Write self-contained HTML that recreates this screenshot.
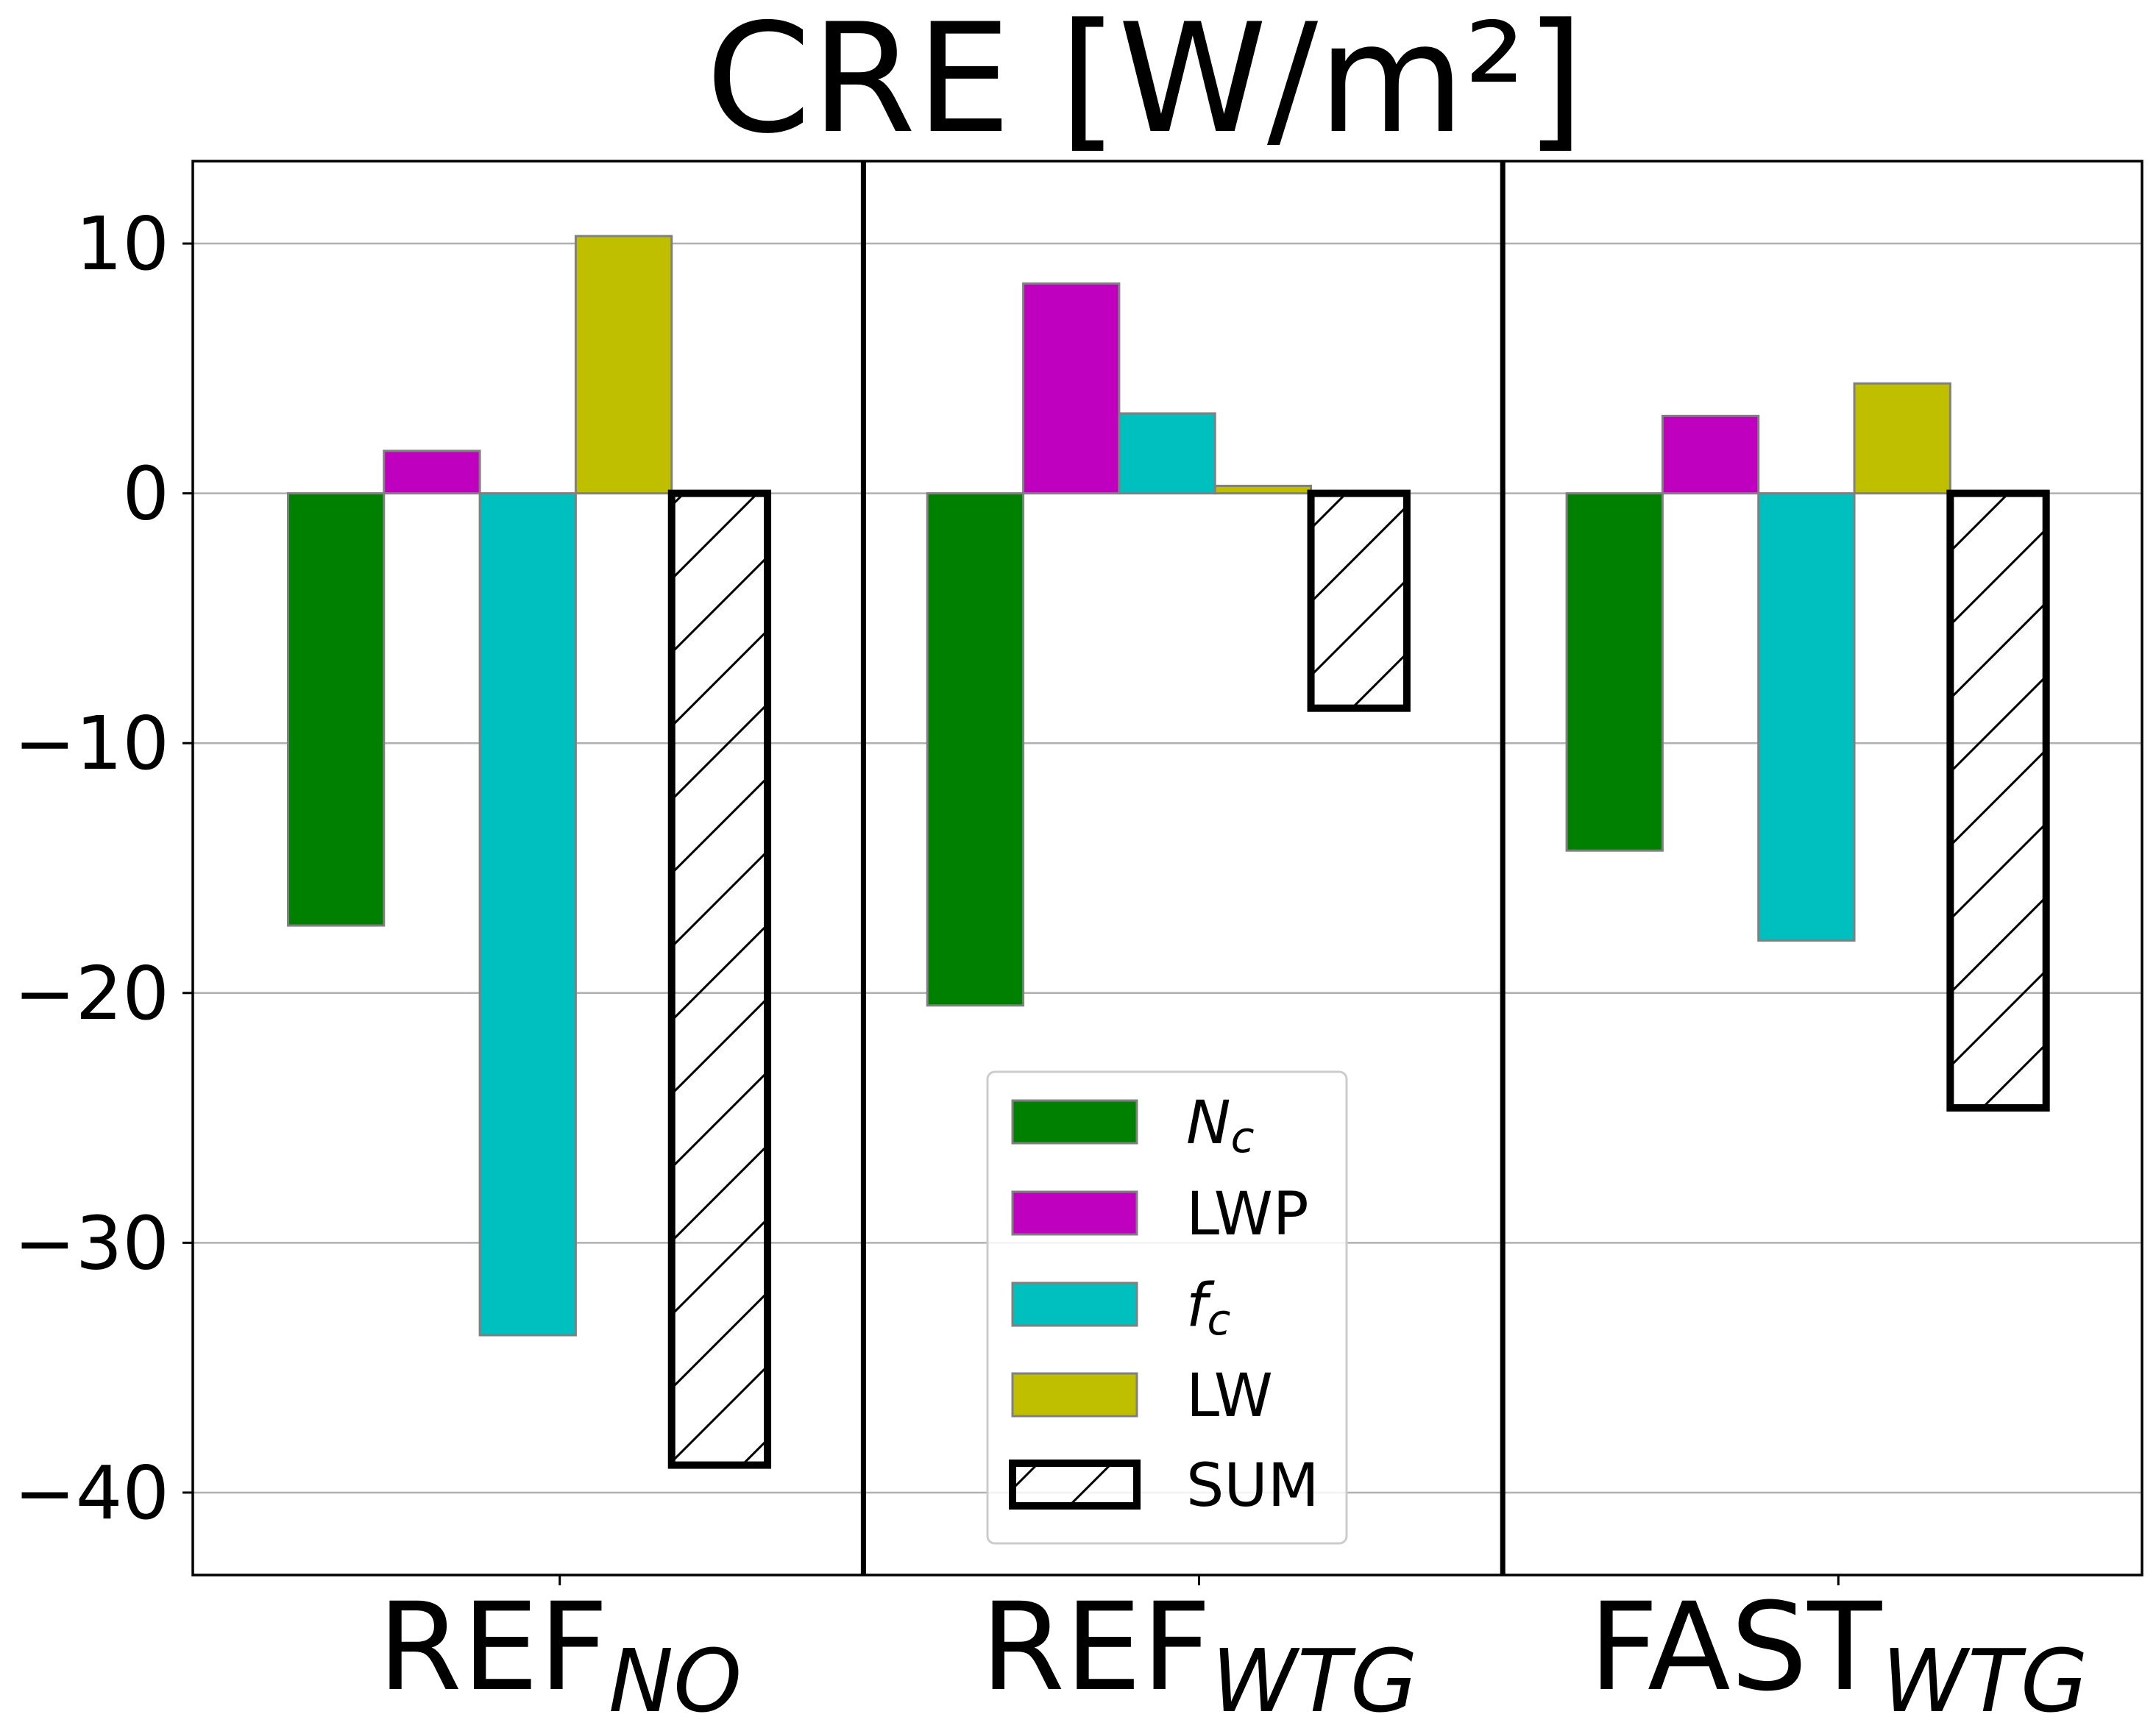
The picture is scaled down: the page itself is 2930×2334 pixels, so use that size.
<!DOCTYPE html>
<html><head><meta charset="utf-8"><style>
html,body{margin:0;padding:0;background:#fff;}
svg{display:block;font-family:"DejaVu Sans","Liberation Sans",sans-serif;}
</style></head><body>
<svg id="chart" width="2930" height="2334" viewBox="0 0 2930 2334" xmlns="http://www.w3.org/2000/svg">
<defs>
<pattern id="hatch" patternUnits="userSpaceOnUse" width="100" height="100">
<path d="M-25,25 L25,-25 M0,100 L100,0 M75,125 L125,75" stroke="#000" stroke-width="3"/>
</pattern>
</defs>
<text x="1556" y="178" font-size="205" text-anchor="middle">CRE [W/m²]</text>
<g id="grid"></g>
<g id="bars"></g>
<g id="frame"></g>
<g id="legend"></g>
</svg>
<script>
const groups = ["REF", "REF", "FAST"];
const groupSubs = ["NO", "WTG", "WTG"];
const seriesNames = ["Nc", "LWP", "fc", "LW", "SUM"];
const ncVals = [-17.3, -20.5, -14.3];
const lwpVals = [1.7, 8.4, 3.1];
const fcVals = [-33.7, 3.2, -17.9];
const lwVals = [10.3, 0.3, 4.4];
const sumVals = [-38.9, -8.6, -24.6];
const yTicks = [10, 0, -10, -20, -30, -40];
const yTickLabels = ["10", "0", "\u221210", "\u221220", "\u221230", "\u221240"];

const NS = "http://www.w3.org/2000/svg";
const L = 262, R = 2911, T = 219, B = 2141;
const xMin = -0.574, xMax = 2.475, yMin = -43.3, yMax = 13.3;
const X = v => L + (v - xMin) / (xMax - xMin) * (R - L);
const Y = v => T + (yMax - v) / (yMax - yMin) * (B - T);
function mk(tag, attrs, parent) {
  const e = document.createElementNS(NS, tag);
  for (const k in attrs) e.setAttribute(k, attrs[k]);
  parent.appendChild(e);
  return e;
}
const grid = document.getElementById('grid');
const bars = document.getElementById('bars');
const frame = document.getElementById('frame');
const legend = document.getElementById('legend');

yTicks.forEach((t, i) => {
  const gl = mk('line', {x1: L, x2: R, y1: Y(t), y2: Y(t), stroke: '#b0b0b0', 'stroke-width': 2.5}, grid);
  
  
  const tk = mk('line', {x1: L - 14, x2: L, y1: Y(t), y2: Y(t), stroke: '#000', 'stroke-width': 3}, frame);
  
  
  const tl = mk('text', {x: L - 32, y: Y(t) + 35, 'font-size': 100, 'text-anchor': 'end'}, frame);
  tl.textContent = yTickLabels[i];
  
  
});

const series = [
  {vals: ncVals, fill: '#008000', edge: '#808080', sw: 3},
  {vals: lwpVals, fill: '#bf00bf', edge: '#808080', sw: 3},
  {vals: fcVals, fill: '#00bfbf', edge: '#808080', sw: 3},
  {vals: lwVals, fill: '#bfbf00', edge: '#808080', sw: 3},
  {vals: sumVals, fill: 'url(#hatch)', edge: '#000', sw: 10}
];
const bw = 0.15;
series.forEach((s, k) => {
  s.vals.forEach((v, g) => {
    const x0 = g - 0.425 + k * bw;
    const y1 = Y(Math.max(v, 0)), y2 = Y(Math.min(v, 0));
    const r = mk('rect', {x: X(x0), y: y1, width: X(x0 + bw) - X(x0), height: y2 - y1, fill: s.fill, stroke: s.edge, 'stroke-width': s.sw}, bars);
    
    
  });
});

[0.475, 1.475].forEach(s => {
  const l = mk('line', {x1: X(s), x2: X(s), y1: T, y2: B, stroke: '#000', 'stroke-width': 7}, frame);
  
  
});
const fr = mk('rect', {x: L, y: T, width: R - L, height: B - T, fill: 'none', stroke: '#000', 'stroke-width': 3.5}, frame);



groups.forEach((gname, g) => {
  const tk = mk('line', {x1: X(g), x2: X(g), y1: B, y2: B + 14, stroke: '#000', 'stroke-width': 3}, frame);
  
  
  const t = mk('text', {x: X(g), y: 2296, 'font-size': 165, 'text-anchor': 'middle'}, frame);
  
  
  t.textContent = gname;
  const sub = document.createElementNS(NS, 'tspan');
  sub.setAttribute('font-size', 118);
  sub.setAttribute('font-style', 'italic');
  sub.setAttribute('dy', 30);
  sub.textContent = groupSubs[g];
  t.appendChild(sub);
});

// legend
const lb = mk('rect', {x: 1342, y: 1457, width: 488, height: 641, rx: 10, fill: '#fff', 'fill-opacity': 0.85, stroke: '#cccccc', 'stroke-width': 3}, legend);


const legLabels = [["N", "c"], ["LWP", ""], ["f", "c"], ["LW", ""], ["SUM", ""]];
const legY = [1496, 1620, 1744, 1867, 1989];
series.forEach((s, k) => {
  const r = mk('rect', {x: 1376, y: legY[k], width: 169, height: 58, fill: s.fill, stroke: s.edge, 'stroke-width': s.sw}, legend);
  
  
  const t = mk('text', {x: 1612, y: legY[k] + 58, 'font-size': 81}, legend);
  
  
  const [main, sub] = legLabels[k];
  t.textContent = main;
  if (sub) {
    t.setAttribute('font-style', 'italic');
    const ts = document.createElementNS(NS, 'tspan');
    ts.setAttribute('font-size', 58);
    ts.setAttribute('dy', 12);
    ts.textContent = sub;
    t.appendChild(ts);
  }
});
</script>
</body></html>
